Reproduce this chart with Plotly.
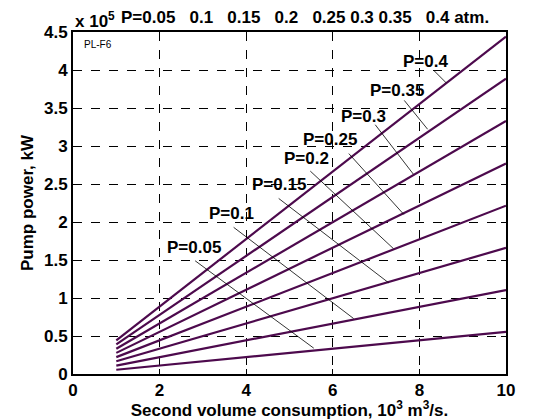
import plotly.graph_objects as go

# ---- data ----
pressures = [0.05, 0.1, 0.15, 0.2, 0.25, 0.3, 0.35, 0.4]
labels = ["P=0.05", "P=0.1", "P=0.15", "P=0.2", "P=0.25", "P=0.3", "P=0.35", "P=0.4"]
x_flow = [1, 10]
y_start = [0.056, 0.111, 0.167, 0.222, 0.278, 0.333, 0.389, 0.444]
y_end = [0.555, 1.105, 1.66, 2.215, 2.77, 3.33, 3.885, 4.44]

# label positions (data coords) and leader lines
label_x = [2.79, 3.66, 4.75, 5.40, 5.94, 6.71, 7.49, 8.14]
label_y = [1.67, 2.11, 2.49, 2.84, 3.09, 3.39, 3.73, 4.11]
lead_x0 = [2.82, 3.71, 4.75, 5.48, 6.37, 6.98, 7.65, 8.34]
lead_y0 = [1.49, 1.93, 2.31, 2.67, 2.90, 3.28, 3.60, 3.99]
lead_x1 = [5.56, 6.48, 7.29, 7.40, 7.64, 7.86, 8.19, 8.62]
lead_y1 = [0.34, 0.73, 1.20, 1.65, 2.10, 2.63, 3.22, 3.83]

x_ticks = [0, 2, 4, 6, 8, 10]
y_ticks = [0, 0.5, 1, 1.5, 2, 2.5, 3, 3.5, 4, 4.5]
y_tick_text = ["0", "0.5", "1", "1.5", "2", "2.5", "3", "3.5", "4", "4.5"]

title_text = "P=0.05\u00a0\u00a0 0.1\u00a0\u00a0 0.15\u00a0\u00a0 0.2\u00a0\u00a0 0.25 0.3 0.35\u00a0\u00a0 0.4 atm."

FONT = "Arial, Liberation Sans, sans-serif"
LINE_COLOR = "#4d0a4d"
FS = 17

fig = go.Figure()

for i, p in enumerate(pressures):
    fig.add_trace(go.Scatter(
        x=x_flow, y=[y_start[i], y_end[i]], mode="lines",
        line=dict(color=LINE_COLOR, width=2.2), showlegend=False, hoverinfo="skip"))

for i in range(len(pressures)):
    fig.add_trace(go.Scatter(
        x=[lead_x0[i], lead_x1[i]], y=[lead_y0[i], lead_y1[i]], mode="lines",
        line=dict(color="black", width=0.8), showlegend=False, hoverinfo="skip"))

for i, t in enumerate(labels):
    fig.add_annotation(x=label_x[i], y=label_y[i], text="<b>%s</b>" % t,
                       showarrow=False, xanchor="center", yanchor="middle",
                       font=dict(family=FONT, size=FS, color="black"))

fig.add_annotation(x=0.02, y=0.985, xref="paper", yref="paper", text="PL-F6",
                   showarrow=False, xanchor="left", yanchor="top",
                   font=dict(family=FONT, size=10, color="black"))

fig.add_annotation(x=0.0, y=1.0, xref="paper", yref="paper",
                   text="<b>x 10<sup>5</sup></b>", showarrow=False,
                   xanchor="left", yanchor="middle", yshift=12,
                   font=dict(family=FONT, size=FS, color="black"))

fig.add_annotation(x=0.535, y=1.0, xref="paper", yref="paper",
                   text="<b>%s</b>" % title_text, showarrow=False,
                   xanchor="center", yanchor="middle", yshift=15,
                   font=dict(family=FONT, size=FS, color="black"))

axis_common = dict(showline=True, linecolor="black", linewidth=2, mirror="ticks",
                   ticks="inside", ticklen=5, tickcolor="black", tickwidth=1,
                   showgrid=True, gridcolor="black", griddash="dash", gridwidth=1,
                   zeroline=False,
                   tickfont=dict(family=FONT, size=FS, color="black"))

fig.update_xaxes(range=[0, 10], tickvals=x_ticks,
                 ticktext=["<b>%d</b>" % v for v in x_ticks],
                 title=dict(text="<b>Second volume consumption, 10<sup>3</sup> m<sup>3</sup>/s.</b>",
                            font=dict(family=FONT, size=FS, color="black"), standoff=0),
                 **axis_common)
fig.update_yaxes(range=[0, 4.5], tickvals=y_ticks,
                 ticktext=["<b>%s</b>" % t for t in y_tick_text],
                 title=dict(text="<b>Pump power, kW</b>",
                            font=dict(family=FONT, size=FS, color="black"), standoff=6),
                 **axis_common)

# page has an 8px body margin, so the figure is sized/placed to compensate
fig.update_layout(width=552, height=412,
                  margin=dict(l=65, r=54, t=24, b=46, autoexpand=False),
                  plot_bgcolor="white", paper_bgcolor="white")

fig.write_html("out.html")
